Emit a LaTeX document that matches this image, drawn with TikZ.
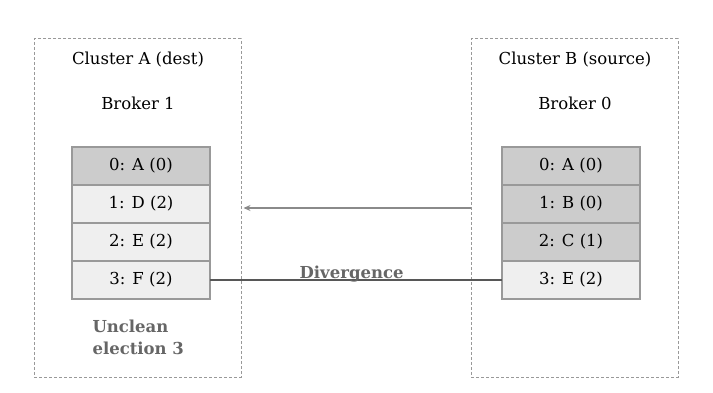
\documentclass[tikz,border=0pt]{standalone}
\usepackage{fontspec}
\setmainfont{DejaVu Serif}
\usetikzlibrary{positioning, arrows.meta}
\definecolor{cellDark}{HTML}{CCCCCC}
\definecolor{cellLight}{HTML}{EFEFEF}
\definecolor{cellEdge}{HTML}{999999}
\definecolor{noteGray}{HTML}{666666}

\begin{document}
\begin{tikzpicture}[x=1pt,y=-1pt,>=Stealth,
    font=\fontsize{16.5}{20}\selectfont,
    cluster/.style={draw=cellEdge,dashed,dash pattern=on 3pt off 2pt,
      minimum width=207pt,minimum height=338pt,line width=1pt},
    cell/.style={draw=cellEdge,line width=1.2pt,minimum width=138pt,
      minimum height=38pt,inner sep=0pt,outer sep=0pt},
    old/.style={cell,fill=cellDark},
    new/.style={cell,fill=cellLight},
    note/.style={text=noteGray,font=\fontsize{16.5}{22}\selectfont\bfseries}]
  \useasboundingbox (0,0) rectangle (713,393);
  % clusters
  \node[cluster] (clusterA) at (137.5,208) {};
  \node[cluster] (clusterB) at (574.5,208) {};
  \node (titleA) at (138,60) {Cluster A (dest)};
  \node (titleB) at (575,60) {Cluster B (source)};
  \node (brokerA) at (138,103) {Broker 1};
  \node (brokerB) at (575,103) {Broker 0};
  % broker 1 log
  \node[old] (a0) at (141,166) {0: A (0)};
  \node[new,below=0pt of a0] (a1) {1: D (2)};
  \node[new,below=0pt of a1] (a2) {2: E (2)};
  \node[new,below=0pt of a2] (a3) {3: F (2)};
  % broker 0 log
  \node[old] (b0) at (571,166) {0: A (0)};
  \node[old,below=0pt of b0] (b1) {1: B (0)};
  \node[old,below=0pt of b1] (b2) {2: C (1)};
  \node[new,below=0pt of b2] (b3) {3: E (2)};
  % replication and divergence
  \draw[-{Stealth[length=7pt,width=6pt]},draw=cellEdge!90!black,line width=1.2pt]
    (clusterB.west) -- ([xshift=2pt]clusterA.east);
  \draw[draw=noteGray!85!black,line width=1.6pt] (a3.east) -- (b3.west)
    node[note,pos=0.485,anchor=base,yshift=2pt] (diverge) {Divergence};
  \node[note,anchor=north west,align=left] (unclean) at (89,316) {Unclean\\election 3};
\end{tikzpicture}
\end{document}
